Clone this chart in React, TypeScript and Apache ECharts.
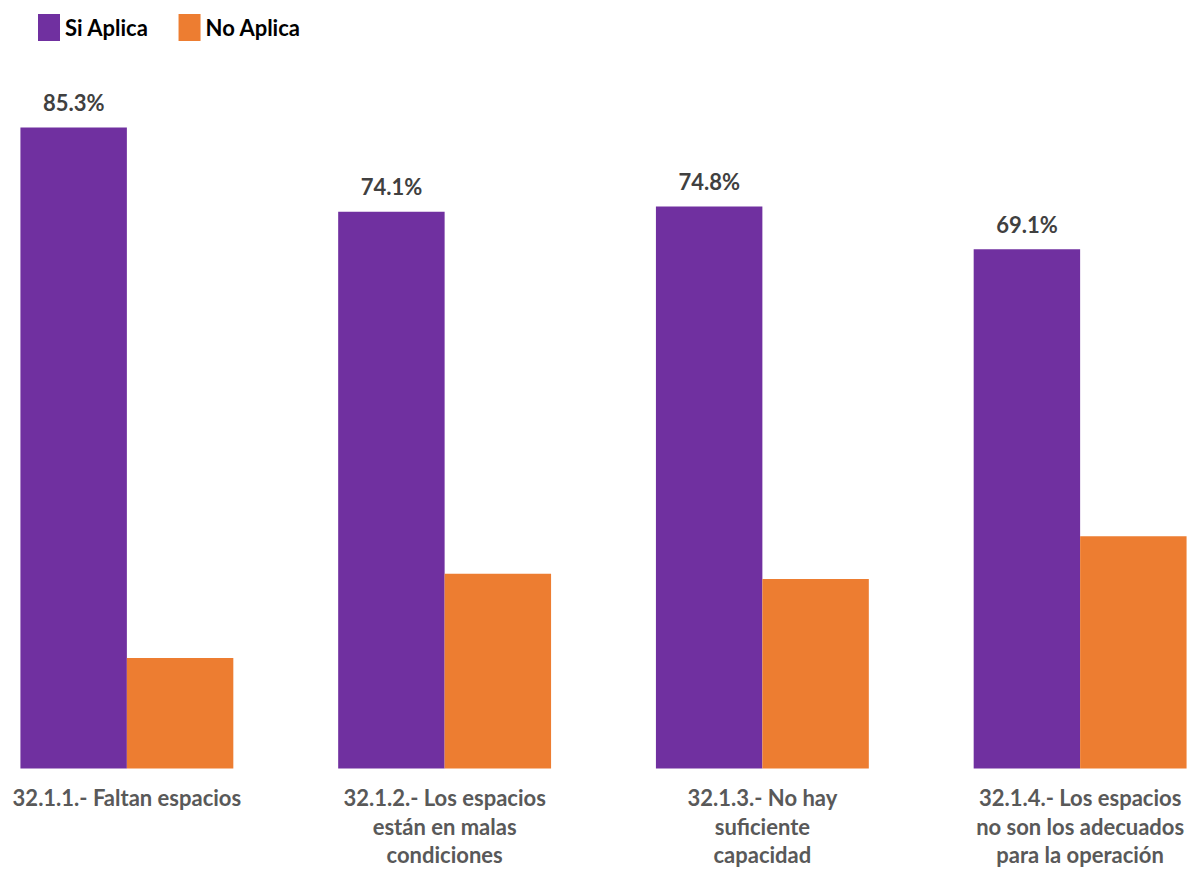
import React, { useEffect, useRef } from "react";
import * as echarts from "echarts";

const categories = [
  "32.1.1.- Faltan espacios",
  "32.1.2.- Los espacios\nestán en malas\ncondiciones",
  "32.1.3.- No hay\nsuficiente\ncapacidad",
  "32.1.4.- Los espacios\nno son los adecuados\npara la operación",
];
const siAplica = [85.3, 74.1, 74.8, 69.1];
const noAplica = [14.7, 25.9, 25.2, 30.9];

const FONT = "Lato, 'Open Sans', sans-serif";
const OFFSET = 32;

export default function App() {
  const ref = useRef<HTMLDivElement>(null);
  useEffect(() => {
    document.body.style.margin = "0";
    const chart = echarts.init(ref.current!, null, { renderer: "svg" });
    chart.setOption({
      animation: false,
      textStyle: { fontFamily: FONT },
      legend: {
        left: 33 + OFFSET,
        top: 9,
        itemWidth: 22,
        itemHeight: 27,
        itemGap: 30,
        icon: "rect",
        textStyle: { fontSize: 22, fontWeight: "bold", color: "#000", fontFamily: FONT },
        data: ["Si Aplica", "No Aplica"],
      },
      grid: { left: 0, right: 0, top: 17, bottom: 97, containLabel: false },
      xAxis: {
        type: "category",
        data: categories,
        axisLine: { show: false },
        axisTick: { show: false },
        axisLabel: {
          interval: 0,
          margin: 15,
          fontSize: 22,
          fontWeight: "bold",
          color: "#595959",
          lineHeight: 28.5,
          align: "center",
          fontFamily: FONT,
        },
      },
      yAxis: {
        type: "value",
        min: 0,
        max: 100,
        show: false,
        splitLine: { show: false },
      },
      series: [
        {
          name: "Si Aplica",
          type: "bar",
          data: siAplica,
          barGap: "0%",
          barCategoryGap: "33%",
          itemStyle: { color: "#7030A0" },
          label: {
            show: true,
            position: "top",
            distance: 14,
            formatter: (p: any) => p.value.toFixed(1) + "%",
            fontSize: 22,
            fontWeight: "bold",
            color: "#404040",
            fontFamily: FONT,
          },
        },
        {
          name: "No Aplica",
          type: "bar",
          data: noAplica,
          itemStyle: { color: "#ED7D31" },
        },
      ],
    });
    return () => chart.dispose();
  }, []);
  return (
    <div style={{ position: "relative", width: 1187, height: 869, overflow: "hidden" }}>
      <div
        ref={ref}
        style={{ position: "absolute", left: -OFFSET, top: 0, width: 1271, height: 869 }}
      />
    </div>
  );
}
